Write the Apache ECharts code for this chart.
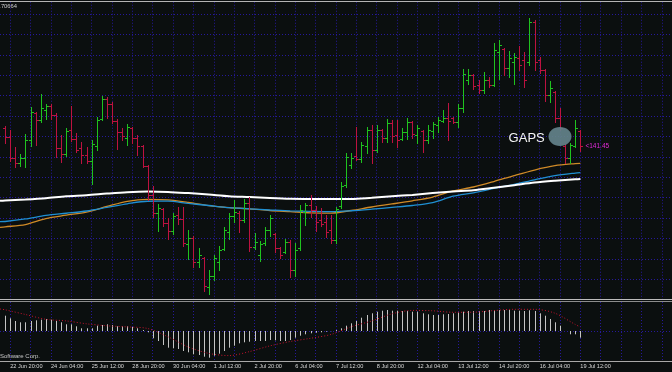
<!DOCTYPE html>
<html><head><meta charset="utf-8">
<script src="https://cdn.jsdelivr.net/npm/echarts@6/dist/echarts.min.js"></script>
<style>html,body{margin:0;padding:0;background:#0b0f0f;}#c{width:672px;height:372px;}</style>
</head><body><div id="c"></div>
<script>
// ---- OHLC bars (H4), bar index 0 = 22 Jun 16:00 ----
const opens = [141.60,141.49,141.24,141.17,141.24,141.46,141.79,141.70,141.82,141.87,
141.76,141.36,141.28,141.58,141.47,141.36,141.27,141.20,141.38,141.71,
141.96,141.90,141.69,141.55,141.48,141.60,141.48,141.38,141.14,140.78,
140.56,140.61,140.44,140.34,140.54,140.49,140.18,140.25,139.96,140.01,
139.66,139.79,139.96,140.12,140.33,140.52,140.56,140.48,140.68,140.14,
140.05,140.19,140.35,140.30,140.13,140.08,140.21,139.86,140.13,140.57,
140.66,140.60,140.48,140.45,140.35,140.23,140.65,140.90,141.15,141.26,
141.22,141.38,141.58,141.33,141.58,141.48,141.66,141.52,141.47,141.55,
141.68,141.52,141.57,141.46,141.57,141.64,141.69,141.73,141.73,141.68,
141.85,142.19,142.25,142.13,142.07,142.19,142.13,142.53,142.57,142.34,
142.41,142.46,142.44,142.41,142.90,142.44,142.31,142.01,142.04,141.73,
141.38,141.24,141.38,141.57];
const highs = [141.63,141.58,141.37,141.28,141.53,141.86,141.80,142.02,141.90,141.90,
141.79,141.52,141.60,141.87,141.54,141.43,141.37,141.46,141.74,142.00,
141.98,141.92,141.71,141.60,141.65,141.62,141.52,141.39,141.15,140.89,
140.67,140.62,140.50,140.56,140.63,140.63,140.35,140.28,140.13,140.02,
139.86,140.05,140.16,140.39,140.56,140.72,140.59,140.73,140.76,140.32,
140.22,140.39,140.54,140.32,140.14,140.24,140.23,140.19,140.66,140.68,
140.78,140.65,140.62,140.54,140.54,140.63,140.94,141.30,141.30,141.62,
141.43,141.62,141.64,141.64,141.59,141.71,141.70,141.70,141.60,141.73,
141.69,141.64,141.58,141.64,141.68,141.74,141.82,141.91,141.74,141.90,
142.33,142.33,142.26,142.19,142.29,142.23,142.64,142.68,142.58,142.55,
142.52,142.61,142.53,142.95,142.93,142.47,142.33,142.18,142.06,141.85,
141.41,141.42,141.70,141.58];
const lows = [141.42,141.20,141.13,141.14,141.13,141.38,141.39,141.68,141.71,141.71,
141.25,141.19,141.26,141.44,141.31,141.17,141.17,140.92,141.33,141.70,
141.73,141.66,141.35,141.46,141.39,141.42,141.27,141.13,140.72,140.51,
140.34,140.40,140.24,140.30,140.43,140.16,140.00,139.90,139.90,139.60,
139.57,139.74,139.86,140.11,140.24,140.45,140.33,140.45,140.09,140.12,
139.97,140.17,140.28,140.08,140.01,140.07,139.78,139.79,140.11,140.42,
140.51,140.34,140.40,140.27,140.19,140.19,140.62,140.88,141.11,141.21,
141.19,141.30,141.17,141.31,141.43,141.43,141.43,141.37,141.46,141.47,
141.48,141.42,141.31,141.42,141.48,141.55,141.68,141.46,141.66,141.62,
141.80,142.14,142.08,142.03,142.03,142.11,142.12,142.20,142.25,142.23,
142.14,142.31,142.11,142.38,142.31,142.28,141.93,141.92,141.68,141.58,
141.17,141.17,141.37,141.32];
const closes = [141.49,141.24,141.17,141.24,141.46,141.80,141.70,141.85,141.87,141.76,
141.36,141.28,141.57,141.47,141.33,141.27,141.20,141.41,141.70,141.96,
141.90,141.69,141.55,141.50,141.62,141.48,141.38,141.14,140.78,140.56,
140.62,140.44,140.34,140.52,140.49,140.19,140.25,139.96,140.05,139.67,
139.79,140.01,140.11,140.35,140.52,140.57,140.48,140.68,140.14,140.21,
140.18,140.35,140.50,140.13,140.05,140.21,139.86,140.11,140.60,140.66,
140.60,140.45,140.43,140.33,140.23,140.61,140.89,141.25,141.24,141.22,
141.39,141.58,141.33,141.58,141.48,141.66,141.50,141.46,141.55,141.68,
141.53,141.60,141.46,141.58,141.65,141.70,141.73,141.69,141.68,141.85,
142.26,142.25,142.12,142.07,142.19,142.13,142.56,142.62,142.34,142.46,
142.47,142.38,142.19,142.90,142.41,142.31,142.01,142.09,141.73,141.60,
141.24,141.39,141.60,141.38];

// ---- moving averages, read at these bar indices (-1 = left edge) ----
const maBars = [-1,0,4,8,12,16,20,24,28,32,36,40,44,48,52,56,60,64,68,72,76,80,84,88,92,96,100,104,108,112,113];
const maWhite = [140.711,140.714,140.727,140.743,140.766,140.779,140.799,140.816,140.824,140.820,140.805,140.787,140.767,140.756,140.744,140.735,140.733,140.733,140.733,140.748,140.766,140.783,140.805,140.825,140.841,140.871,140.902,140.934,140.956,140.974,140.978];
const maOrange = [140.386,140.392,140.420,140.493,140.534,140.573,140.641,140.705,140.729,140.721,140.690,140.651,140.627,140.613,140.592,140.578,140.564,140.560,140.592,140.635,140.672,140.711,140.757,140.831,140.880,140.947,141.020,141.088,141.141,141.167,141.170];
const maBlue = [140.455,140.457,140.488,140.531,140.558,140.586,140.629,140.674,140.705,140.706,140.678,140.653,140.627,140.613,140.598,140.588,140.582,140.578,140.589,140.608,140.630,140.653,140.689,140.767,140.809,140.862,140.911,140.968,141.020,141.051,141.055];

// ---- MACD ----
const macdHist = [0.153,0.127,0.100,0.087,0.087,0.100,0.107,0.113,0.120,0.113,
0.100,0.087,0.067,0.067,0.047,0.027,0.027,0.027,0.053,0.060,
0.067,0.060,0.047,0.047,0.047,0.040,0.027,0.010,-0.013,-0.073,
-0.100,-0.140,-0.167,-0.173,-0.180,-0.200,-0.213,-0.233,-0.240,-0.257,
-0.267,-0.247,-0.227,-0.200,-0.167,-0.147,-0.123,-0.113,-0.107,-0.100,
-0.100,-0.100,-0.090,-0.093,-0.100,-0.100,-0.090,-0.067,-0.047,-0.033,
-0.023,-0.017,-0.013,-0.007,-0.002,0.010,0.027,0.053,0.077,0.100,
0.133,0.160,0.177,0.193,0.203,0.210,0.203,0.203,0.200,0.200,
0.193,0.193,0.177,0.167,0.160,0.160,0.167,0.170,0.177,0.187,
0.193,0.200,0.200,0.200,0.200,0.210,0.210,0.210,0.210,0.210,
0.203,0.203,0.200,0.207,0.200,0.177,0.153,0.120,0.087,0.053,
0.000,-0.033,-0.033,-0.067];
const signalBars = maBars;
const macdSignal = [0.220,0.212,0.165,0.117,0.101,0.072,0.052,0.041,0.025,-0.058,-0.160,-0.224,-0.246,-0.206,-0.149,-0.105,-0.073,-0.035,0.043,0.100,0.172,0.206,0.202,0.187,0.188,0.204,0.217,0.217,0.178,0.065,0.040];

// ---- time axis ----
const tickLabels = ['22 Jun 20:00','24 Jun 04:00','25 Jun 12:00','28 Jun 20:00','30 Jun 04:00','1 Jul 12:00','2 Jul 20:00','6 Jul 04:00','7 Jul 12:00','8 Jul 20:00','12 Jul 04:00','13 Jul 12:00','14 Jul 20:00','16 Jul 04:00','19 Jul 12:00'];
const tickBars = [1,9,17,25,33,41,49,57,65,73,81,89,97,105,113];
const slotCount = 133; // one leading slot + bars + empty right margin

const categories = [];
for (let k = 0; k < slotCount; k++) {
  const j = tickBars.indexOf(k - 1);
  categories.push(j >= 0 ? tickLabels[j] : '');
}

const FONT = 'Liberation Sans';
const gridColor = '#26199a';
const UP = '#1fc21f', DOWN = '#bd1240';

const ohlcData = opens.map((o, i) => [i + 1, o, highs[i], lows[i], closes[i]]);
const histData = macdHist.map((v, i) => [i + 1, v]);

function snap(v) { return Math.round(v) + 0.5; }

function renderOHLC(params, api) {
  const k = api.value(0);
  const o = api.value(1), c = api.value(4);
  const pH = api.coord([k, api.value(2)]);
  const pL = api.coord([k, api.value(3)]);
  const pO = api.coord([k, o]);
  const pC = api.coord([k, c]);
  const xr = Math.round(pH[0]);
  const x = xr + 0.5;
  const style = { stroke: c >= o ? UP : DOWN, lineWidth: 1 };
  const yo = snap(pO[1]), yc = snap(pC[1]);
  return {
    type: 'group',
    children: [
      { type: 'line', shape: { x1: x, y1: Math.round(pH[1]), x2: x, y2: Math.round(pL[1]) + 1 }, style },
      { type: 'line', shape: { x1: xr - 2, y1: yo, x2: xr, y2: yo }, style },
      { type: 'line', shape: { x1: xr + 1, y1: yc, x2: xr + 3, y2: yc }, style }
    ]
  };
}

function renderHist(params, api) {
  const k = api.value(0);
  const p0 = api.coord([k, 0]);
  const p1 = api.coord([k, api.value(1)]);
  const x = Math.round(p0[0]) + 0.5;
  return { type: 'line', shape: { x1: x, y1: p0[1], x2: x, y2: p1[1] },
           style: { stroke: '#c4c4c4', lineWidth: 1 } };
}

const splitV = { show: true, interval: (idx) => idx >= 2 && (idx - 2) % 4 === 0,
                 lineStyle: { color: gridColor, type: [1, 2], width: 1 } };

const chart = echarts.init(document.getElementById('c'), null, { renderer: 'canvas' });
chart.setOption({
  backgroundColor: '#0b0f0f',
  animation: false,
  grid: [
    { left: -0.9, right: -0.3, top: 1.76, height: 297.84 },
    { left: -0.9, right: -0.3, top: 302, height: 59 }
  ],
  xAxis: [
    { type: 'category', gridIndex: 0, data: categories, boundaryGap: false,
      axisLine: { show: false }, axisTick: { show: false }, axisLabel: { show: false },
      splitLine: splitV },
    { type: 'category', gridIndex: 1, data: categories, boundaryGap: false,
      axisLine: { show: true, onZero: false, lineStyle: { color: '#a8a8a8', width: 1 } },
      axisTick: { show: false },
      axisLabel: { show: true, interval: (idx, val) => val !== '', align: 'left', margin: 2,
                   fontSize: 5.6, color: '#d8d8d8', fontFamily: FONT },
      splitLine: splitV }
  ],
  yAxis: [
    { type: 'value', gridIndex: 0, min: 139.5, max: 143.15, interval: 0.25,
      axisLine: { show: false }, axisTick: { show: false }, axisLabel: { show: false },
      splitLine: { show: true, showMinLine: false, showMaxLine: false,
                   lineStyle: { color: gridColor, type: [1, 2], width: 1 } } },
    { type: 'value', gridIndex: 1, min: -0.30, max: 0.29, interval: 0.30,
      axisLine: { show: false }, axisTick: { show: false }, axisLabel: { show: false },
      splitLine: { show: true, showMinLine: false, showMaxLine: false,
                   lineStyle: { color: gridColor, type: [1, 2], width: 1 } } }
  ],
  series: [
    { type: 'line', xAxisIndex: 0, yAxisIndex: 0, data: maBars.map((b, j) => [b + 1, maOrange[j]]),
      showSymbol: false, smooth: 0.3, lineStyle: { color: '#cf8a27', width: 1.3 }, z: 2 },
    { type: 'line', xAxisIndex: 0, yAxisIndex: 0, data: maBars.map((b, j) => [b + 1, maBlue[j]]),
      showSymbol: false, smooth: 0.3, lineStyle: { color: '#1f8fd2', width: 1.3 }, z: 2 },
    { type: 'line', xAxisIndex: 0, yAxisIndex: 0, data: maBars.map((b, j) => [b + 1, maWhite[j]]),
      showSymbol: false, smooth: 0.3, lineStyle: { color: '#ffffff', width: 2 }, z: 3 },
    { type: 'custom', xAxisIndex: 0, yAxisIndex: 0, data: ohlcData, renderItem: renderOHLC,
      encode: { x: 0, y: [1, 2, 3, 4] }, z: 4 },
    { type: 'custom', xAxisIndex: 1, yAxisIndex: 1, data: histData, renderItem: renderHist,
      encode: { x: 0, y: 1 }, z: 3 },
    { type: 'line', xAxisIndex: 1, yAxisIndex: 1, data: signalBars.map((b, j) => [b + 1, macdSignal[j]]),
      showSymbol: false, smooth: 0.3, lineStyle: { color: '#c4142e', width: 1, type: [1, 2] }, z: 4 }
  ]
});

// annotations placed in data coordinates
const gapMark = { bar: 109.2, price: 141.50 };
const gapText = { bar: 106.2, price: 141.47 };
const priceTag = { bar: 113.9, price: 141.38, text: '<141.45' };
const pg = chart.convertToPixel({ xAxisIndex: 0, yAxisIndex: 0 }, [gapMark.bar + 1, gapMark.price]);
const pt = chart.convertToPixel({ xAxisIndex: 0, yAxisIndex: 0 }, [gapText.bar + 1, gapText.price]);
const pp = chart.convertToPixel({ xAxisIndex: 0, yAxisIndex: 0 }, [priceTag.bar + 1, priceTag.price]);

chart.setOption({
  graphic: [
    { type: 'line', shape: { x1: 0, y1: 1.5, x2: 672, y2: 1.5 }, style: { stroke: '#b4b4b4', lineWidth: 1 }, z: 10 },
    { type: 'line', shape: { x1: 0, y1: 299.5, x2: 672, y2: 299.5 }, style: { stroke: '#bdbdbd', lineWidth: 1 }, z: 10 },
    { type: 'line', shape: { x1: 0, y1: 301.5, x2: 672, y2: 301.5 }, style: { stroke: '#8c8c8c', lineWidth: 1 }, z: 10 },
    { type: 'ellipse', shape: { cx: pg[0], cy: pg[1], rx: 11.5, ry: 9.5 },
      style: { fill: 'rgba(100,130,138,0.92)' }, z: 11 },
    { type: 'text', x: pt[0], y: pt[1],
      style: { text: 'GAPS', fill: '#f4f4f4', font: '13px "Liberation Sans"', align: 'right', verticalAlign: 'middle' }, z: 11 },
    { type: 'text', x: pp[0], y: pp[1],
      style: { text: priceTag.text, fill: '#e02ad8', font: '6.5px "Liberation Sans"', align: 'left', verticalAlign: 'middle' }, z: 11 },
    { type: 'text', x: 17, y: 6,
      style: { text: '.70664', fill: '#cfcfcf', font: '5.8px "Liberation Sans"', align: 'right', verticalAlign: 'middle' }, z: 11 },
    { type: 'text', x: 0, y: 356,
      style: { text: 'Software Corp.', fill: '#c8c8c8', font: '6px "Liberation Sans"', align: 'left', verticalAlign: 'middle' }, z: 11 }
  ]
});
</script>
</body></html>
